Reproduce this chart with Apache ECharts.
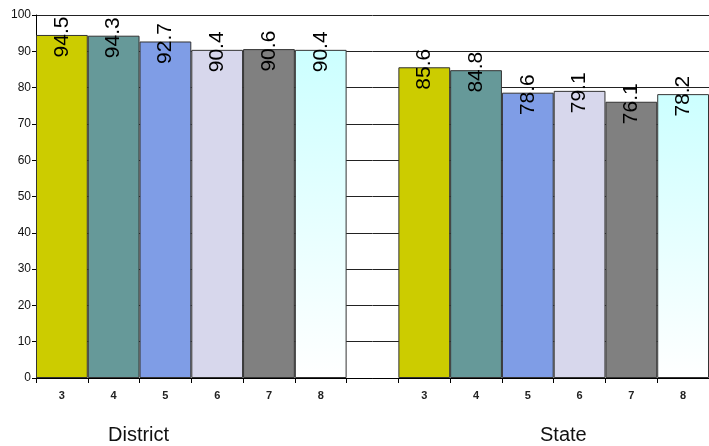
<!DOCTYPE html>
<html>
<head>
<meta charset="utf-8">
<script src="https://cdn.jsdelivr.net/npm/echarts@6/dist/echarts.min.js"></script>
<style>
html,body{margin:0;padding:0;background:#fff;}
#c{width:709px;height:446px;}
</style>
</head>
<body>
<div id="c"></div>
<script>
const grades = ['3', '4', '5', '6', '7', '8'];
const groups = ['District', 'State'];
const districtValues = [94.5, 94.3, 92.7, 90.4, 90.6, 90.4];
const stateValues = [85.6, 84.8, 78.6, 79.1, 76.1, 78.2];
const yTicks = [0, 10, 20, 30, 40, 50, 60, 70, 80, 90, 100];

const gradeColors = [
  '#CCCC00',
  '#669999',
  '#7F9DE6',
  '#D7D7EC',
  '#808080',
  {type: 'linear', x: 0, y: 0, x2: 0, y2: 1, colorStops: [{offset: 0, color: '#CCFFFF'}, {offset: 1, color: '#FFFFFF'}]}
];

const categories = grades.concat(['']).concat(grades);
function items(vals) {
  return vals.map((v, i) => ({value: v, itemStyle: {color: gradeColors[i]}}));
}
const seriesData = items(districtValues).concat([null]).concat(items(stateValues));

const chart = echarts.init(document.getElementById('c'), null, {renderer: 'canvas'});
chart.setOption({
  animation: false,
  backgroundColor: '#fff',
  grid: {left: 36, right: 0, top: 15, bottom: 68, containLabel: false},
  xAxis: {
    type: 'category',
    data: categories,
    boundaryGap: true,
    axisLine: {lineStyle: {color: '#000', width: 1}},
    axisTick: {show: true, interval: 0, length: 5, lineStyle: {color: '#000'}},
    axisLabel: {interval: 0, color: '#222', fontSize: 11, fontWeight: 'bold', fontFamily: 'Liberation Sans, Arial, sans-serif', margin: 12}
  },
  yAxis: {
    type: 'value',
    min: yTicks[0],
    max: yTicks[yTicks.length - 1],
    interval: 10,
    axisLine: {show: true, lineStyle: {color: '#000', width: 1}},
    axisTick: {show: true, length: 4, lineStyle: {color: '#000'}},
    axisLabel: {color: '#111', fontSize: 12, fontFamily: 'Liberation Sans, Arial, sans-serif', margin: 5},
    splitLine: {show: true, lineStyle: {color: '#222', width: 1}}
  },
  graphic: [
    {type: 'text', left: 108, top: 425, style: {text: groups[0], fontSize: 20, fill: '#111', fontFamily: 'Liberation Sans, Arial, sans-serif'}},
    {type: 'text', left: 540, top: 425, style: {text: groups[1], fontSize: 20, fill: '#111', fontFamily: 'Liberation Sans, Arial, sans-serif'}}
  ],
  series: [{
    type: 'bar',
    data: seriesData,
    barWidth: '100%',
    itemStyle: {borderColor: '#333', borderWidth: 1},
    label: {
      show: true,
      position: ['50%', 2],
      rotate: 90,
      align: 'center',
      verticalAlign: 'middle',
      color: '#000',
      fontSize: 21,
      fontFamily: 'Liberation Sans, Arial, sans-serif',
      formatter: p => p.value == null ? '' : String(p.value)
    }
  }]
});
</script>
</body>
</html>
